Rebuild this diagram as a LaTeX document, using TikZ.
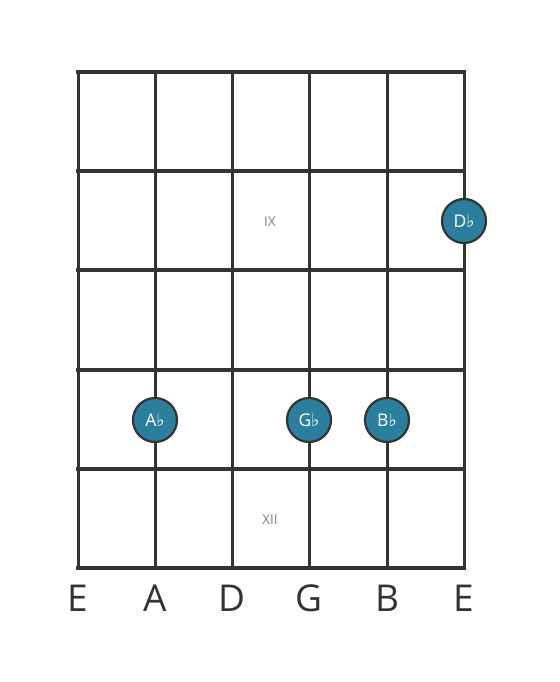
\documentclass[tikz,border=0pt]{standalone}
\usepackage{fontspec}
\setmainfont{Open Sans}
\newfontfamily\flatfont{DejaVu Sans}
\definecolor{gridgray}{HTML}{333333}
\definecolor{noteblue}{HTML}{2B7F9C}
\newcommand{\fl}{{\flatfont\char"266D}}

\begin{document}
\begin{tikzpicture}[x=1pt, y=-1pt,
  note/.style={draw=gridgray, line width=2.2pt, fill=noteblue, circle, minimum size=44pt, inner sep=0pt, text=white, font=\fontsize{17.5}{17.5}\selectfont},
  fretnum/.style={text=gray, font=\fontsize{13.5}{13.5}\selectfont},
  strname/.style={text=gridgray, font=\fontsize{37}{37}\selectfont}]
\useasboundingbox (0, 0) rectangle (559, 682);
% strings
\foreach \x in {78, 155, 232, 309, 387, 464}
  \draw[gridgray, line width=3pt] (\x, 72) -- (\x, 568);
% frets
\foreach \y in {72, 171, 270, 370, 469, 568}
  \draw[gridgray, line width=4.5pt, line cap=rect] (78, \y) -- (464, \y);

\node[fretnum] (nine) at (270, 222) {IX};
\node[fretnum] (twelve) at (270, 520) {XII};

\node[note] (dflat) at (464, 221) {D\fl};
\node[note] (aflat) at (155, 420) {A\fl};
\node[note] (gflat) at (309, 420) {G\fl};
\node[note] (bflat) at (387, 420) {B\fl};

\node[strname] (lowe) at (78, 598) {E};
\node[strname] (astr) at (155, 598) {A};
\node[strname] (dstr) at (232, 598) {D};
\node[strname] (gstr) at (309, 598) {G};
\node[strname] (bstr) at (387, 598) {B};
\node[strname] (highe) at (464, 598) {E};
\end{tikzpicture}
\end{document}
